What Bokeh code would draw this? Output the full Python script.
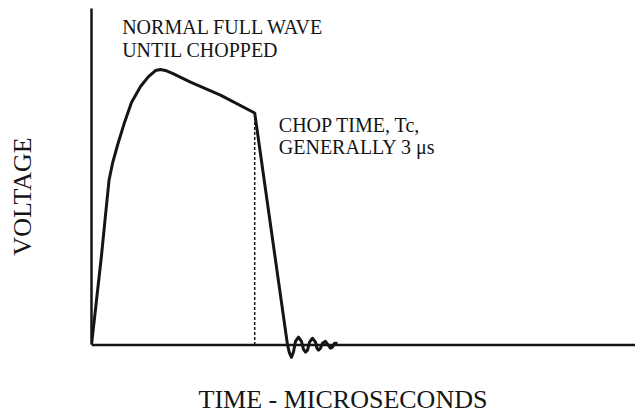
from bokeh.plotting import figure
from bokeh.models import Range1d, Span, Label, FixedTicker, Title
from bokeh.embed import file_html
from bokeh.resources import INLINE

# ---- data (time in microseconds, voltage in per-unit of peak) ----
time_us = [0.0, 0.092, 0.184, 0.257, 0.322, 0.386, 0.478, 0.607, 0.735, 0.901,
           1.048, 1.176, 1.268, 1.379, 1.489, 1.820, 2.371, 3.0,
           3.603, 3.640, 3.676, 3.713, 3.750, 3.805, 3.860, 3.897, 3.934, 3.971,
           4.007, 4.062, 4.118, 4.145, 4.173, 4.210, 4.246, 4.301, 4.338, 4.393,
           4.430, 4.467, 4.522]
voltage = [0.0, 0.162, 0.325, 0.470, 0.597, 0.658, 0.724, 0.807, 0.879, 0.937,
           0.973, 0.995, 0.999, 0.994, 0.985, 0.953, 0.906, 0.841,
           0.0, -0.030, -0.045, -0.026, 0.013, 0.028, 0.013, -0.016, -0.026, -0.019,
           0.010, 0.024, 0.010, -0.012, -0.019, -0.012, 0.006, 0.013, 0.003, -0.012,
           -0.008, 0.006, 0.006]
chop_time = [3.0, 3.0]
chop_level = [0.0, 0.82]

note_full_wave = ["NORMAL FULL WAVE", "UNTIL CHOPPED"]
note_chop = ["CHOP TIME, Tc,", "GENERALLY 3 \u03bcs"]
x_title = "TIME - MICROSECONDS"
y_title = "VOLTAGE"

FONT = "Liberation Serif"
INK = "#151515"

p = figure(width=635, height=415, output_backend="svg", toolbar_location=None,
           x_range=Range1d(0, 10.0), y_range=Range1d(-0.1436, 1.22),
           min_border_left=91, min_border_right=0, min_border_top=8,
           min_border_bottom=31)
p.outline_line_color = None
p.grid.visible = False
p.background_fill_color = "white"
p.border_fill_color = "white"

def bare(ax):
    ax.ticker = FixedTicker(ticks=[])
    ax.major_tick_line_color = None
    ax.minor_tick_line_color = None
    ax.major_tick_out = 0
    ax.minor_tick_out = 0
    ax.major_label_standoff = 0
    ax.major_label_text_font_size = "0px"

# bottom axis: hidden (its visible line is drawn at voltage 0 below)
xa = p.xaxis[0]
bare(xa)
xa.axis_line_color = None

# left axis: the visible vertical line, with the title
ya = p.yaxis[0]
bare(ya)
ya.bounds = (0, 1.22)
ya.axis_line_width = 2.5
ya.axis_line_color = INK
ya.axis_label = y_title
ya.axis_label_text_font = FONT
ya.axis_label_text_font_size = "26px"
ya.axis_label_text_font_style = "normal"
ya.axis_label_text_color = INK
ya.axis_label_standoff = 55

p.add_layout(Title(text=x_title, align="left", offset=107, vertical_align="top",
                   standoff=0, text_font=FONT, text_font_size="26px",
                   text_font_style="normal", text_color=INK), "below")

p.add_layout(Span(location=0, dimension="width", line_color=INK, line_width=2.5))

p.line(chop_time, chop_level, line_color=INK, line_width=1.5, line_dash="3 2")
p.line(time_us, voltage, line_color=INK, line_width=3, line_join="round")

def lab(x, y, t):
    p.add_layout(Label(x=x, y=y, text=t, text_font=FONT, text_font_size="20px",
                       text_color=INK, text_baseline="alphabetic"))

lab(0.564, 1.152, note_full_wave[0])
lab(0.564, 1.068, note_full_wave[1])
lab(3.443, 0.796, note_chop[0])
lab(3.443, 0.717, note_chop[1])

open("out.html", "w").write(file_html(p, INLINE))
